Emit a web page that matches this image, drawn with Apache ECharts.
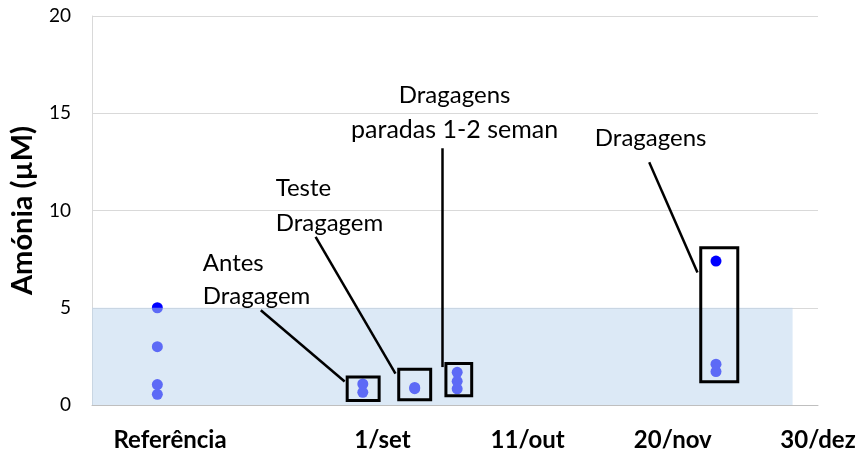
<!DOCTYPE html>
<html>
<head>
<meta charset="utf-8">
<script src="https://cdn.jsdelivr.net/npm/echarts@6/dist/echarts.min.js"></script>
<style>
html, body { margin: 0; padding: 0; background: #fff; }
#mychart { width: 861px; height: 452px; }
</style>
</head>
<body>
<div id="mychart"></div>
<script>
// x in days counted from 1/set (reference samples placed before it)
var tickPos = [-58.5, 0, 40, 80, 120];
var tickNames = ['Referência', '1/set', '11/out', '20/nov', '30/dez'];

var sampleDay = [-62, -62, -62, -62, -5.4, -5.4, 8.9, 8.9, 20.6, 20.6, 20.6, 91.9, 91.9, 91.9];
var amonia = [5.0, 3.0, 1.05, 0.55, 1.08, 0.65, 0.9, 0.84, 1.68, 1.22, 0.83, 7.4, 2.1, 1.72];

// reference band 0-5 uM
var bandDays = [-80, 113];
var bandLevel = [0, 5];

// boxes round the dredging events [x1, x2, y1, y2]
var boxes = [
    [-9.7, -0.9, 0.23, 1.44],
    [4.5, 13.3, 0.27, 1.84],
    [17.5, 24.6, 0.48, 2.13],
    [87.7, 97.9, 1.2, 8.09]
];

// leader lines [x1, y1, x2, y2]
var leaders = [
    [-33.5, 4.87, -10.4, 1.21],
    [-18.4, 8.65, 3.6, 1.61],
    [16.5, 13.2, 16.6, 1.95],
    [73.5, 12.48, 86.8, 6.81]
];

var noteText = ['Antes', 'Dragagem', 'Teste', 'Dragagem', 'Dragagens', 'paradas 1-2 seman', 'Dragagens'];
var noteX = [-49.5, -49.5, -29.4, -29.4, 19.9, 19.9, 73.9];
var noteY = [7.3, 5.59, 11.16, 9.36, 15.95, 14.15, 13.72];
var noteAlign = ['left', 'left', 'left', 'left', 'center', 'center', 'center'];

var font = 'Lato, sans-serif';
var myChart = echarts.init(document.getElementById('mychart'));

var areaData = [[
    { coord: [bandDays[0], bandLevel[0]], itemStyle: { color: 'rgba(185,212,238,0.5)', borderWidth: 0 } },
    { coord: [bandDays[1], bandLevel[1]] }
]];
boxes.forEach(function (b) {
    areaData.push([
        { coord: [b[0], b[2]], itemStyle: { color: 'rgba(0,0,0,0)', borderColor: '#000', borderWidth: 3 } },
        { coord: [b[1], b[3]] }
    ]);
});

var lineData = leaders.map(function (l) {
    return [{ coord: [l[0], l[1]] }, { coord: [l[2], l[3]] }];
});

var option = {
    animation: false,
    grid: { left: 91, right: 43, top: 16, bottom: 47 },
    xAxis: {
        type: 'value',
        min: -80,
        max: 120,
        axisLine: { show: true, onZero: false, lineStyle: { color: '#bfbfbf', width: 1 } },
        axisTick: { show: false },
        splitLine: { show: false },
        axisLabel: {
            customValues: tickPos,
            formatter: function (v) {
                var i = tickPos.indexOf(v);
                return i >= 0 ? tickNames[i] : '';
            },
            fontFamily: font,
            fontWeight: 'bold',
            fontSize: 24,
            color: '#000',
            margin: 23
        }
    },
    yAxis: {
        type: 'value',
        min: 0,
        max: 20,
        interval: 5,
        name: 'Amónia (µM)',
        nameLocation: 'middle',
        nameGap: 55,
        nameTextStyle: { fontFamily: font, fontWeight: 'bold', fontSize: 29, color: '#000' },
        axisLine: { show: true, onZero: false, lineStyle: { color: '#d9d9d9' } },
        axisTick: { show: false },
        splitLine: { lineStyle: { color: '#d9d9d9' } },
        axisLabel: { fontFamily: font, fontSize: 19, color: '#000', margin: 21 }
    },
    series: [
        {
            type: 'scatter',
            data: sampleDay.map(function (d, i) { return [d, amonia[i]]; }),
            symbolSize: 11,
            itemStyle: { color: '#0000ff', opacity: 1 },
            emphasis: { disabled: true },
            z: 2,
            markArea: { silent: true, z: 3, data: areaData },
            markLine: {
                silent: true,
                z: 4,
                symbol: ['none', 'none'],
                label: { show: false },
                lineStyle: { color: '#000', width: 2.5, type: 'solid' },
                emphasis: { disabled: true },
                data: lineData
            }
        }
    ]
};

myChart.setOption(option);

// annotation texts positioned in data coordinates
var notes = noteText.map(function (t, i) {
    var p = myChart.convertToPixel({ gridIndex: 0 }, [noteX[i], noteY[i]]);
    return {
        type: 'text',
        x: p[0],
        y: p[1],
        z: 10,
        style: {
            text: t,
            fill: '#000',
            font: (i == 5 ? '25px ' : '24px ') + font,
            align: noteAlign[i],
            verticalAlign: 'middle'
        }
    };
});
myChart.setOption({ graphic: notes });
</script>
</body>
</html>
